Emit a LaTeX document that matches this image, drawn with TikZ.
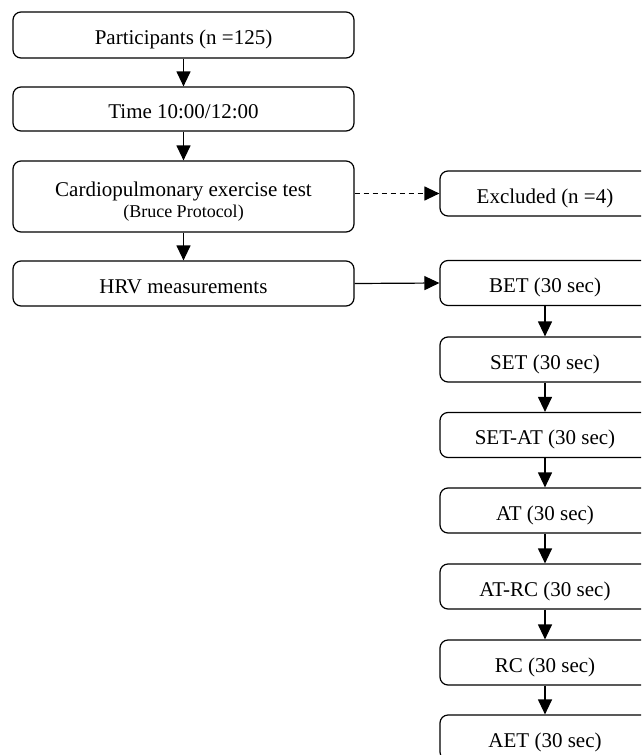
\documentclass[tikz,border=0pt]{standalone}
\usepackage{fontspec}
\setmainfont{Liberation Serif}
\usetikzlibrary{arrows.meta}
\begin{document}
\begin{tikzpicture}[x=1pt,y=-1pt,
  box/.style={draw=black, line width=1.2pt, rounded corners=8pt, inner sep=0pt,
    font=\fontsize{21pt}{25pt}\selectfont, text height=19pt, text depth=0pt},
  lbox/.style={box, minimum width=341pt, minimum height=45pt},
  rbox/.style={box, minimum width=210pt, minimum height=45pt},
  txt/.style={inner sep=0pt, anchor=base},
  arr/.style={line width=1.2pt, -{Triangle[length=15pt,width=14pt]}},
  darr/.style={arr, dash pattern=on 5pt off 4pt}]
\clip (0,0) rectangle (641,755);
\node[lbox, minimum height=46pt] (p) at (183.5,35) {Participants (n =125)};
\node[lbox, minimum height=44pt] (t) at (183.5,109) {Time 10:00/12:00};
\node[lbox, minimum height=71pt] (c) at (183.5,196.5) {};
\node[txt, font=\fontsize{21pt}{25pt}\selectfont] (c1) at (183.5,196) {Cardiopulmonary exercise test};
\node[txt, font=\fontsize{18pt}{20pt}\selectfont] (c2) at (183.5,217) {(Bruce Protocol)};
\node[lbox] (h) at (183.5,283.5) {HRV measurements};
\node[rbox] (ex) at (545,193.5) {Excluded (n =4)};
\node[rbox] (b1) at (545,283) {BET (30 sec)};
\node[rbox] (b2) at (545,359.5) {SET (30 sec)};
\node[rbox] (b3) at (545,435) {SET-AT (30 sec)};
\node[rbox] (b4) at (545,510.5) {AT (30 sec)};
\node[rbox] (b5) at (545,586.5) {AT-RC (30 sec)};
\node[rbox] (b6) at (545,662.5) {RC (30 sec)};
\node[rbox] (b7) at (545,737.5) {AET (30 sec)};
\draw[arr] (p) -- (t);
\draw[arr] (t) -- (c);
\draw[arr] (c) -- (h);
\draw[darr] (c.east |- ex.west) -- (ex.west);
\draw[arr] (h.east) -- (b1.west);
\draw[arr] (b1) -- (b2);
\draw[arr] (b2) -- (b3);
\draw[arr] (b3) -- (b4);
\draw[arr] (b4) -- (b5);
\draw[arr] (b5) -- (b6);
\draw[arr] (b6) -- (b7);
\end{tikzpicture}
\end{document}
